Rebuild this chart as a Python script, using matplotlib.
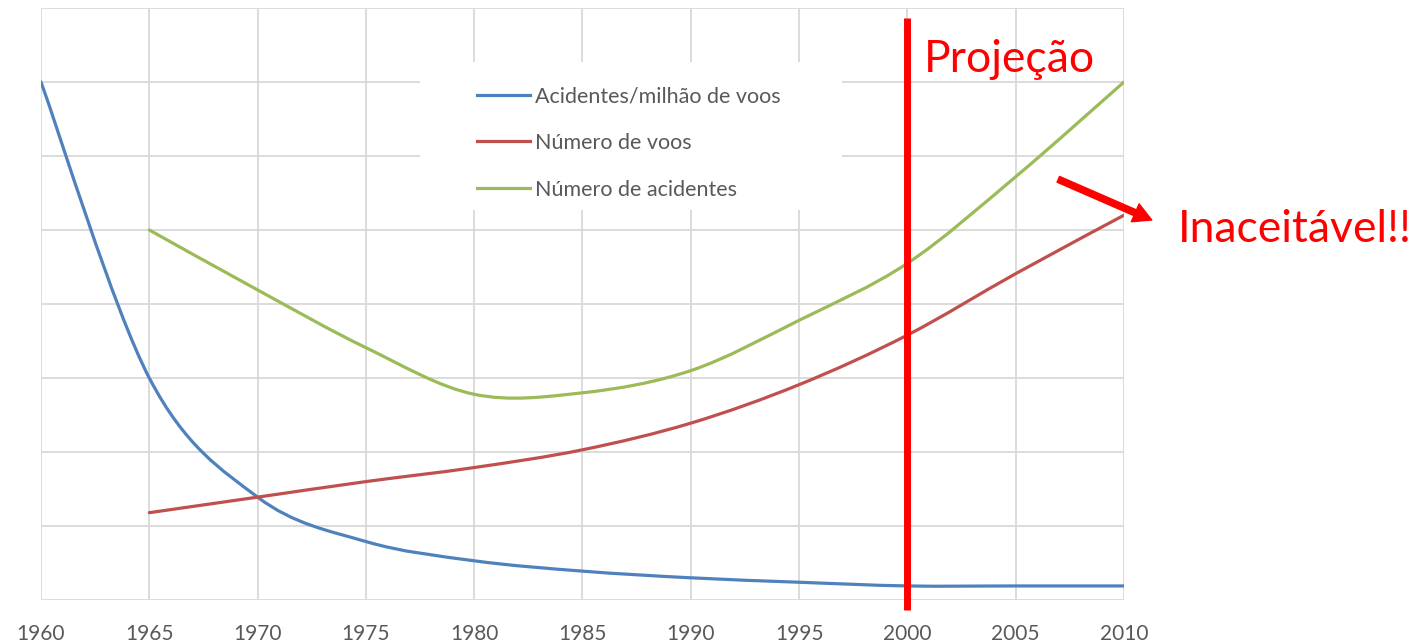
import numpy as np
import matplotlib.pyplot as plt
from matplotlib.path import Path
from matplotlib.patches import PathPatch, Rectangle

plt.rcParams['font.family'] = ['Lato', 'DejaVu Sans']

# data (5-year points)
years = [1960, 1965, 1970, 1975, 1980, 1985, 1990, 1995, 2000, 2005, 2010]
acid_per_million = [7.0, 3.0, 1.39, 0.79, 0.53, 0.39, 0.30, 0.24, 0.19, 0.19, 0.19]
years_b = [1965, 1970, 1975, 1980, 1985, 1990, 1995, 2000, 2005, 2010]
num_flights = [1.18, 1.39, 1.60, 1.79, 2.03, 2.39, 2.91, 3.58, 4.41, 5.20]
num_accidents = [5.0, 4.19, 3.41, 2.78, 2.80, 3.10, 3.78, 4.55, 5.72, 7.0]

labels = ['Acidentes/milhão de voos', 'Número de voos', 'Número de acidentes']
colors = ['#4F81BD', '#C0504D', '#9BBB59']
proj_year = 2000


def smooth_path(xs, ys):
    # excel-like smoothed line (catmull-rom as cubic bezier)
    pts = np.column_stack([xs, ys]).astype(float)
    n = len(pts)
    verts = [pts[0]]
    codes = [Path.MOVETO]
    for i in range(n - 1):
        p0 = pts[max(i - 1, 0)]
        p1 = pts[i]
        p2 = pts[i + 1]
        p3 = pts[min(i + 2, n - 1)]
        verts += [p1 + (p2 - p0) / 6, p2 - (p3 - p1) / 6, p2]
        codes += [Path.CURVE4] * 3
    return Path(verts, codes)


fig = plt.figure(figsize=(14.25, 6.44), dpi=100)
ax = fig.add_axes([41 / 1425, 1 - 600 / 644, 1083 / 1425, 592 / 644])
ax.set_xlim(1960, 2010)
ax.set_ylim(0, 8)
ax.set_xticks(range(1960, 2011, 5))
ax.set_yticks(range(0, 9))
ax.set_yticklabels([])
ax.tick_params(length=0, axis='x', pad=17, labelsize=15, labelcolor='#595959')
ax.tick_params(length=0, axis='y')
ax.grid(True, color='#d9d9d9', linewidth=1.3)
for s in ax.spines.values():
    s.set_visible(False)
ax.set_axisbelow(True)

series = [(years, acid_per_million), (years_b, num_flights), (years_b, num_accidents)]
for (xs, ys), c in zip(series, colors):
    ax.add_patch(PathPatch(smooth_path(xs, ys), fill=False, edgecolor=c,
                           linewidth=2.3, capstyle='round', zorder=3))

# legend box
ax.add_patch(Rectangle((0.35, 0.6588), 0.3896, 0.25, transform=ax.transAxes,
                       facecolor='white', edgecolor='none', zorder=2))
handles = [plt.Line2D([], [], color=c, linewidth=2.3) for c in colors]
ax.legend(handles, labels, loc='upper left', bbox_to_anchor=(0.4026, 0.868),
          frameon=False, fontsize=15.5, labelcolor='#595959', handlelength=2.45,
          handletextpad=0.23, labelspacing=1.24, borderpad=0, borderaxespad=0)

# projection line and annotations
ax.plot([proj_year, proj_year], [-0.135, 7.865], color='red', linewidth=5,
        solid_capstyle='butt', clip_on=False, zorder=4)
ax.text(2000.75, 7.14, 'Projeção', color='red', fontsize=32, va='baseline')
ax.annotate('', xy=(2011.4, 5.12), xytext=(2006.85, 5.70),
            arrowprops=dict(arrowstyle='simple,head_width=1.4,head_length=1.3,tail_width=0.45',
                            color='red'), annotation_clip=False)
ax.text(2012.5, 5.0, 'Inaceitável!!', color='red', fontsize=32, va='center')

plt.savefig('out.png')
